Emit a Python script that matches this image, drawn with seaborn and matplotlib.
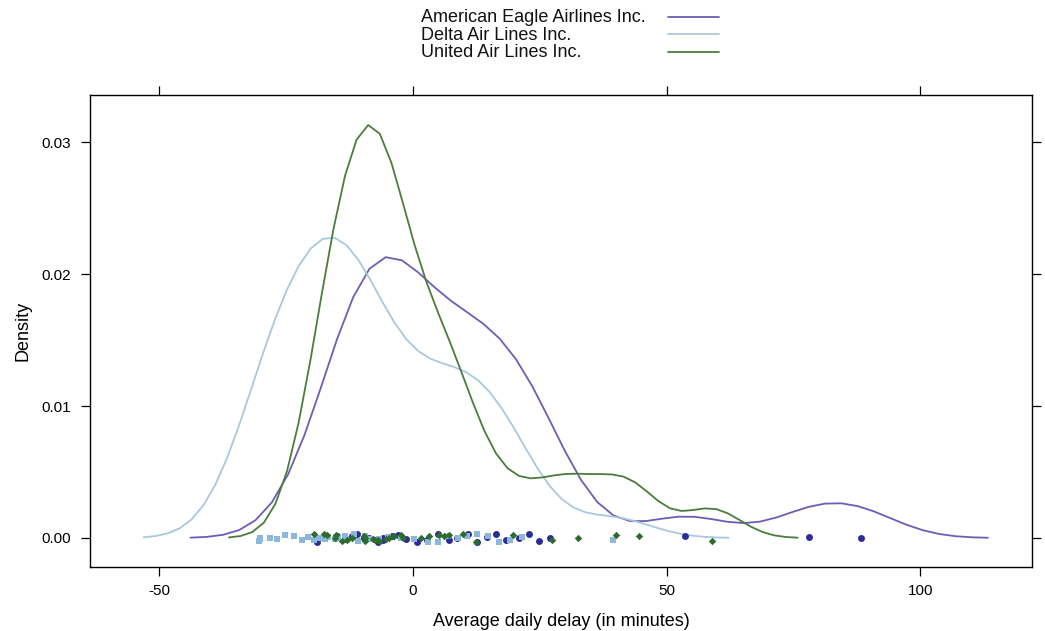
import numpy as np
import matplotlib
matplotlib.use('Agg')
import matplotlib.pyplot as plt
from matplotlib.lines import Line2D
import seaborn as sns

# average daily delay (minutes) per carrier
airlines = ['American Eagle Airlines Inc.', 'Delta Air Lines Inc.', 'United Air Lines Inc.']
american_eagle = [-18.8, -15.0, -13.2, -11.9, -10.9, -9.7, -8.7, -6.9, -5.8, -5.8,
                  -4.1, -3.0, -1.3, 0.8, 2.8, 5.0, 7.1, 8.8, 10.9, 12.6,
                  14.7, 16.3, 18.4, 21.0, 22.9, 24.8, 27.0, 53.7, 78.1, 88.3]
delta = [-30.3, -30.2, -30.1, -28.1, -26.8, -25.2, -23.5, -21.9, -20.7, -19.4,
         -18.5, -17.3, -16.7, -15.4, -14.8, -13.4, -13.1, -11.6, -10.7, -9.5,
         -8.3, -6.6, -4.8, -2.3, 0.3, 2.9, 5.0, 7.0, 8.9, 10.7,
         12.7, 14.8, 17.0, 19.2, 21.6, 39.5]
united = [-19.4, -17.4, -17.0, -15.4, -15.2, -13.9, -13.0, -11.9, -9.6, -9.5,
          -9.4, -7.8, -7.5, -6.8, -6.7, -5.2, -4.6, -3.8, -2.4, -1.9,
          1.6, 3.2, 5.1, 6.2, 7.2, 9.9, 12.5, 19.8, 27.5, 32.5,
          40.0, 44.5, 59.0]

line_colors = ['#6d5db5', '#a8c8e1', '#4a7d3b']
point_colors = ['#2b2b9b', '#8cb7d9', '#2d6c2f']
markers = ['o', 's', 'D']
marker_sizes = [5, 4.3, 3.8]

sns.set_theme(style='white')
plt.rcParams['font.family'] = ['Liberation Sans', 'DejaVu Sans']
plt.rcParams['axes.unicode_minus'] = False


def bw_nrd0(v):
    # R's default density() bandwidth (bw.nrd0)
    q75, q25 = np.percentile(v, [75, 25])
    lo = min(np.std(v, ddof=1), (q75 - q25) / 1.34)
    return 0.9 * lo * len(v) ** -0.2


fig = plt.figure(figsize=(10.45, 6.31), dpi=100)
ax = fig.add_axes([90 / 1045, 64 / 631, 942 / 1045, 472 / 631])

np.random.seed(7)
for vals, lc, pc, mk, ms in zip([american_eagle, delta, united], line_colors,
                                point_colors, markers, marker_sizes):
    vals = np.asarray(vals)
    sns.kdeplot(x=vals, bw_method=bw_nrd0(vals) / vals.std(ddof=1), cut=3,
                gridsize=50, color=lc, lw=1.3, ax=ax)
    sns.stripplot(x=vals, y=np.zeros(len(vals)), orient='h', native_scale=True,
                  jitter=0.00033, marker=mk, color=pc, size=ms, linewidth=0,
                  ax=ax, zorder=3)

ax.set_xlim(-63.6, 122.0)
ax.set_ylim(-0.0022, 0.0336)
ax.set_xticks([-50, 0, 50, 100])
ax.set_yticks([0.0, 0.01, 0.02, 0.03])
ax.set_yticklabels(['0.00', '0.01', '0.02', '0.03'])
for s in ax.spines.values():
    s.set_color('black')
    s.set_linewidth(1.0)
ax.tick_params(axis='both', direction='out', length=6.5, width=0.9, colors='black',
               labelsize=11, bottom=True, left=True, top=True, right=True,
               labeltop=False, labelright=False)
ax.tick_params(axis='x', pad=6)
ax.tick_params(axis='y', pad=7)

ax.set_xlabel('Average daily delay (in minutes)', fontsize=13, color='black')
ax.set_ylabel('Density', fontsize=13, color='black')
ax.xaxis.set_label_coords(0.5, -0.097)
ax.yaxis.set_label_coords(-0.062, 0.5)

# lattice-style key: labels on the left, line samples on the right
for i, (name, lc) in enumerate(zip(airlines, line_colors)):
    ty = 1 - (18 + 17.3 * i) / 631
    fig.text(421 / 1045, ty, name, ha='left', va='center', fontsize=13, color='#111111')
    ly = 1 - (16.8 + 17.4 * i) / 631
    fig.add_artist(Line2D([668 / 1045, 719 / 1045], [ly, ly], transform=fig.transFigure,
                          color=lc, lw=1.3))

fig.savefig('out.png', dpi=100)
